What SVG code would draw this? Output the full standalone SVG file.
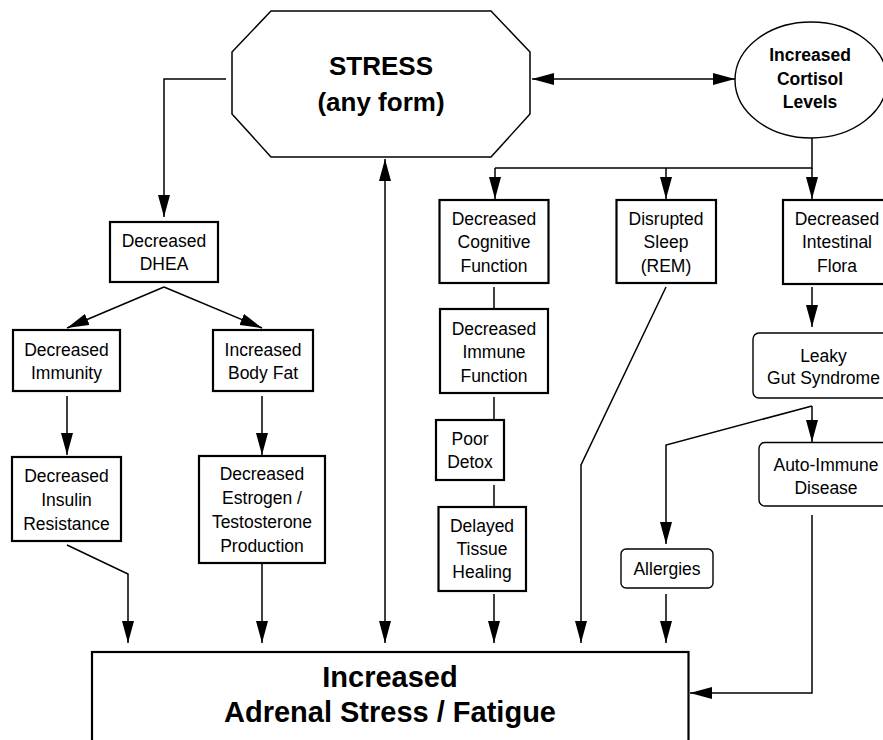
<svg xmlns="http://www.w3.org/2000/svg" width="883" height="740" viewBox="0 0 883 740">
<defs>
<style>
.box{fill:#fff;stroke:#000;stroke-width:2.2}
.rbox{fill:#fff;stroke:#000;stroke-width:1.4}
.shape{fill:#fff;stroke:#000;stroke-width:1.5}
.t{font-family:"Liberation Sans",Arial,Helvetica,sans-serif;font-size:17.5px;text-anchor:middle;fill:#000}
.tb{font-family:"Liberation Sans",Arial,Helvetica,sans-serif;font-size:17.5px;font-weight:bold;text-anchor:middle;fill:#000}
.big{font-family:"Liberation Sans",Arial,Helvetica,sans-serif;font-size:26px;font-weight:bold;text-anchor:middle;fill:#000}
.huge{font-family:"Liberation Sans",Arial,Helvetica,sans-serif;font-size:29px;font-weight:bold;text-anchor:middle;fill:#000}
.c{fill:none;stroke:#000;stroke-width:1.5}
.a{marker-end:url(#ah)}
.aa{marker-start:url(#ah);marker-end:url(#ah)}
</style>
<marker id="ah" markerUnits="userSpaceOnUse" markerWidth="22" markerHeight="12" refX="22" refY="6" orient="auto-start-reverse" viewBox="0 0 22 12">
<path d="M0,0 L22,6 L0,12 z" fill="#000"/>
</marker>
</defs>
<rect width="883" height="740" fill="#fff"/>

<g id="connectors">
<polyline class="c a" points="226,79 164,79 164,217"/>
<line class="c aa" x1="532" y1="79" x2="735" y2="79"/>
<polyline class="c" points="812,138 812,168 495,168"/>
<line class="c a" x1="495" y1="168" x2="495" y2="199"/>
<line class="c a" x1="666" y1="168" x2="666" y2="199"/>
<line class="c a" x1="812" y1="168" x2="812" y2="199"/>
<line class="c a" x1="164" y1="287" x2="67" y2="328"/>
<line class="c a" x1="164" y1="287" x2="262" y2="328"/>
<line class="c a" x1="67" y1="396" x2="67" y2="455"/>
<line class="c a" x1="262" y1="396" x2="262" y2="455"/>
<polyline class="c a" points="67,545 128,574 128,643"/>
<line class="c a" x1="262" y1="563" x2="262" y2="643"/>
<line class="c aa" x1="385" y1="159" x2="385" y2="643"/>
<line class="c" x1="494" y1="287" x2="494" y2="308"/>
<line class="c" x1="494" y1="397" x2="494" y2="419"/>
<line class="c" x1="494" y1="485" x2="494" y2="506"/>
<line class="c a" x1="494" y1="594" x2="494" y2="643"/>
<polyline class="c a" points="666,287 581,465 581,643"/>
<line class="c a" x1="812" y1="287" x2="812" y2="327"/>
<line class="c a" x1="812" y1="406" x2="812" y2="442"/>
<polyline class="c a" points="812,406 666,445 666,544"/>
<line class="c a" x1="666" y1="594" x2="666" y2="643"/>
<polyline class="c a" points="812,515 812,693 690,693"/>
</g>

<g id="stress">
<polygon class="shape" points="271,11 491,11 530,52 530,114 491,157 271,157 232,114 232,52"/>
<text class="big" x="381" y="75">STRESS</text>
<text class="big" x="381" y="111">(any form)</text>
</g>

<g id="cortisol">
<ellipse class="shape" cx="811" cy="80" rx="76" ry="58" style="stroke-width:1.4"/>
<text class="tb" x="810" y="61">Increased</text>
<text class="tb" x="810" y="85">Cortisol</text>
<text class="tb" x="810" y="108">Levels</text>
</g>

<g id="dhea">
<rect class="box" x="110" y="222" width="108" height="60"/>
<text class="t" x="164" y="247">Decreased</text>
<text class="t" x="164" y="269.5">DHEA</text>
</g>

<g id="immunity">
<rect class="box" x="13" y="330" width="107" height="61"/>
<text class="t" x="66.5" y="356">Decreased</text>
<text class="t" x="66.5" y="379">Immunity</text>
</g>

<g id="bodyfat">
<rect class="box" x="213" y="330" width="100" height="61"/>
<text class="t" x="263" y="356">Increased</text>
<text class="t" x="263" y="379">Body Fat</text>
</g>

<g id="insulin">
<rect class="box" x="12" y="457" width="109" height="84"/>
<text class="t" x="66.5" y="482">Decreased</text>
<text class="t" x="66.5" y="505.5">Insulin</text>
<text class="t" x="66.5" y="529.5">Resistance</text>
</g>

<g id="estrogen">
<rect class="box" x="199" y="456" width="126" height="107"/>
<text class="t" x="262" y="480">Decreased</text>
<text class="t" x="262" y="503.5">Estrogen /</text>
<text class="t" x="262" y="527.5">Testosterone</text>
<text class="t" x="262" y="551.5">Production</text>
</g>

<g id="cognitive">
<rect class="box" x="439.5" y="200" width="109" height="83"/>
<text class="t" x="494" y="225">Decreased</text>
<text class="t" x="494" y="248.3">Cognitive</text>
<text class="t" x="494" y="271.7">Function</text>
</g>

<g id="sleep">
<rect class="box" x="616.5" y="200" width="99.5" height="83"/>
<text class="t" x="666" y="225">Disrupted</text>
<text class="t" x="666" y="248.3">Sleep</text>
<text class="t" x="666" y="271.7">(REM)</text>
</g>

<g id="flora">
<rect class="box" x="783" y="200" width="110" height="84"/>
<text class="t" x="837" y="225">Decreased</text>
<text class="t" x="837" y="248.3">Intestinal</text>
<text class="t" x="837" y="271.7">Flora</text>
</g>

<g id="immune">
<rect class="box" x="440" y="309" width="108" height="84"/>
<text class="t" x="494" y="335">Decreased</text>
<text class="t" x="494" y="358.3">Immune</text>
<text class="t" x="494" y="381.7">Function</text>
</g>

<g id="detox">
<rect class="box" x="436" y="420" width="68" height="60"/>
<text class="t" x="470" y="445">Poor</text>
<text class="t" x="470" y="468.3">Detox</text>
</g>

<g id="healing">
<rect class="box" x="438.5" y="507" width="87.5" height="84"/>
<text class="t" x="482" y="531.7">Delayed</text>
<text class="t" x="482" y="555">Tissue</text>
<text class="t" x="482" y="578.3">Healing</text>
</g>

<g id="leaky">
<rect class="rbox" x="753" y="333" width="140" height="65" rx="6"/>
<text class="t" x="823.5" y="361.7">Leaky</text>
<text class="t" x="823.5" y="384.3">Gut Syndrome</text>
</g>

<g id="autoimmune">
<rect class="rbox" x="759" y="442.5" width="134" height="63.5" rx="6"/>
<text class="t" x="826" y="471">Auto-Immune</text>
<text class="t" x="826" y="494">Disease</text>
</g>

<g id="allergies">
<rect class="rbox" x="621" y="549" width="92" height="39" rx="5"/>
<text class="t" x="667" y="575">Allergies</text>
</g>

<g id="adrenal">
<rect class="box" x="92" y="652" width="596.5" height="100"/>
<text class="huge" x="390" y="687">Increased</text>
<text class="huge" x="390" y="722">Adrenal Stress / Fatigue</text>
</g>
</svg>
